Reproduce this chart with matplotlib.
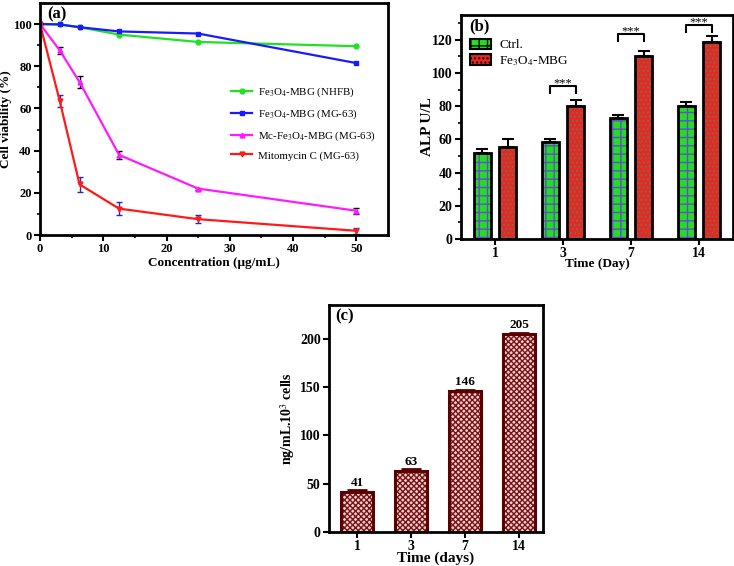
import numpy as np
import matplotlib
matplotlib.use('Agg')
from matplotlib import pyplot as plt
from matplotlib.patches import Patch

# (a) cell viability
conc = [0, 3.125, 6.25, 12.5, 25, 50]
via_nhfb = [100, 99.8, 98.5, 95, 91.5, 89.5]
via_mg63 = [100, 99.8, 98.5, 96.5, 95.5, 81.5]
via_mc = [100, 87.5, 72.5, 38, 22, 11.5]
err_mc = [0, 1.5, 3, 2, 0.5, 1.5]
via_mito = [100, 63.5, 24, 12.5, 7.5, 2]
err_mito = [0, 3, 3.5, 3, 2, 1.5]

# (b) ALP
days_b = ['1', '3', '7', '14']
alp_ctrl = [52, 58.5, 73, 80]
alp_ctrl_err = [2.5, 1.5, 2, 2.5]
alp_fe = [55.5, 80, 110.5, 119]
alp_fe_err = [4.5, 4, 3, 3.5]
sig_idx = [1, 2, 3]
sig_h = [92, 123.5, 129]

# (c)
days_c = ['1', '3', '7', '14']
conc_c = [41, 63, 146, 205]
conc_c_err = [2, 2, 1.5, 1.5]

plt.rcParams['font.family'] = ['Liberation Serif', 'DejaVu Serif']
plt.rcParams['mathtext.fontset'] = 'stix'
plt.rcParams['hatch.linewidth'] = 1.0

fig = plt.figure(figsize=(7.34, 5.66), dpi=100)

def style_ax(ax, fs):
    for s in ax.spines.values():
        s.set_linewidth(2)
    ax.tick_params(which='major', direction='out', length=4, width=1.5, labelsize=fs, pad=2)
    ax.tick_params(which='minor', direction='out', length=2, width=1.2)
    for t in ax.get_xticklabels() + ax.get_yticklabels():
        t.set_fontweight('bold')

# ---- (a)
ax1 = fig.add_axes([0.0545, 0.5848, 0.474, 0.41])
ax1.errorbar(conc, via_mc, yerr=err_mc, fmt='none', ecolor='black', elinewidth=1, capsize=2.5)
ax1.errorbar(conc, via_mito, yerr=err_mito, fmt='none', ecolor='#2a2ab8', elinewidth=1, capsize=2.5)
ax1.plot(conc, via_nhfb, '-o', color='#22e022', lw=1.6, ms=3.5, label='Fe$_3$O$_4$-MBG (NHFB)')
ax1.plot(conc, via_mg63, '-s', color='#1a1aff', lw=1.6, ms=3.5, label='Fe$_3$O$_4$-MBG (MG-63)')
ax1.plot(conc, via_mc, '-^', color='#ff1aff', lw=1.6, ms=3.5, label='Mc-Fe$_3$O$_4$-MBG (MG-63)')
ax1.plot(conc, via_mito, '-v', color='#ff1a1a', lw=1.6, ms=3.5, label='Mitomycin C (MG-63)')
ax1.set_xlim(0, 55)
ax1.set_ylim(0, 110)
ax1.set_xticks([0, 10, 20, 30, 40, 50])
ax1.set_xticks(np.arange(5, 55, 10), minor=True)
ax1.set_yticks([0, 20, 40, 60, 80, 100])
ax1.set_yticks(np.arange(10, 110, 20), minor=True)
style_ax(ax1, 9)
ax1.set_xlabel('Concentration (μg/mL)', fontsize=9.5, fontweight='bold', labelpad=1)
ax1.set_ylabel('Cell viability (%)', fontsize=9.5, fontweight='bold')
ax1.yaxis.set_label_coords(-0.08, 0.5)
ax1.text(0.02, 0.985, '(a)', transform=ax1.transAxes, fontsize=12, fontweight='bold', va='top')
ax1.legend(loc='upper left', bbox_to_anchor=(0.52, 0.685), frameon=False, fontsize=7.8,
           handlelength=2.0, labelspacing=0.75, handletextpad=0.5)

# ---- (b)
ax2 = fig.add_axes([0.628, 0.5777, 0.3706, 0.3958])
xb = np.arange(len(days_b))
w = 0.25
off = 0.19
ax2.bar(xb - off, alp_ctrl, w, color='#22dd22', edgecolor='#6a4ad0', lw=0, hatch='++')
ax2.bar(xb - off, alp_ctrl, w, fill=False, edgecolor='black', lw=2)
ax2.bar(xb + off, alp_fe, w, color='#e8281e', edgecolor='#7a6a5a', lw=0, hatch='....')
ax2.bar(xb + off, alp_fe, w, fill=False, edgecolor='black', lw=2)
ax2.errorbar(xb - off, alp_ctrl, yerr=[np.zeros(4), alp_ctrl_err], fmt='none',
             ecolor='black', elinewidth=1.5, capsize=4, capthick=1.5)
ax2.errorbar(xb + off, alp_fe, yerr=[np.zeros(4), alp_fe_err], fmt='none',
             ecolor='black', elinewidth=1.5, capsize=4, capthick=1.5)
for i, h in zip(sig_idx, sig_h):
    x0, x1 = xb[i] - off, xb[i] + off
    ax2.plot([x0, x0, x1, x1], [h - 4, h, h, h - 4], color='black', lw=1.5)
    ax2.text((x0 + x1) / 2, h - 2, '***', ha='center', va='bottom', fontsize=9)
ax2.set_xlim(-0.5, 3.5)
ax2.set_ylim(0, 135)
ax2.set_xticks(xb)
ax2.set_xticklabels(days_b)
ax2.set_yticks(np.arange(0, 121, 20))
ax2.set_yticks(np.arange(10, 131, 20), minor=True)
style_ax(ax2, 10)
ax2.set_xlabel('Time (Day)', fontsize=9.5, fontweight='bold', labelpad=-2)
ax2.set_ylabel('ALP U/L', fontsize=11, fontweight='bold')
ax2.yaxis.set_label_coords(-0.098, 0.5)
ax2.text(0.03, 0.985, '(b)', transform=ax2.transAxes, fontsize=12, fontweight='bold', va='top')
h1 = Patch(facecolor='#22dd22', edgecolor='black', hatch='++', lw=1.5)
h2 = Patch(facecolor='#e8281e', edgecolor='black', hatch='....', lw=1.5)
ax2.legend([h1, h2], ['Ctrl.', 'Fe$_3$O$_4$-MBG'], loc='upper left', bbox_to_anchor=(0.0, 0.935),
           frameon=False, fontsize=9.5, handlelength=1.6, handleheight=0.8,
           labelspacing=0.2, handletextpad=0.6, borderaxespad=0.3)

# ---- (c)
ax3 = fig.add_axes([0.4482, 0.0601, 0.2916, 0.401])
xc = np.arange(len(days_c))
ax3.bar(xc, conc_c, 0.6, color='#f0d0d0', edgecolor='#7a1414', lw=0, hatch='xxxxxx')
ax3.bar(xc, conc_c, 0.6, fill=False, edgecolor='#5a0000', lw=2.2)
ax3.errorbar(xc, conc_c, yerr=[np.zeros(4), conc_c_err], fmt='none', ecolor='#5a0000',
             elinewidth=1.5, capsize=7, capthick=2)
for x, v, e in zip(xc, conc_c, conc_c_err):
    ax3.annotate(str(v), (x, v + e), xytext=(0, 1), textcoords='offset points',
                 ha='center', va='bottom', fontsize=9.5, fontweight='bold')
ax3.set_xlim(-0.52, 3.44)
ax3.set_ylim(0, 235)
ax3.set_xticks(xc)
ax3.set_xticklabels(days_c)
ax3.set_yticks([0, 50, 100, 150, 200])
style_ax(ax3, 10)
ax3.set_xlabel('Time (days)', fontsize=11, fontweight='bold', labelpad=-1)
ax3.set_ylabel('ng/mL.10$^3$ cells', fontsize=10, fontweight='bold')
ax3.yaxis.set_label_coords(-0.15, 0.5)
ax3.text(0.03, 0.985, '(c)', transform=ax3.transAxes, fontsize=12, fontweight='bold', va='top')

fig.savefig('out.png', dpi=100)
plt.close()
